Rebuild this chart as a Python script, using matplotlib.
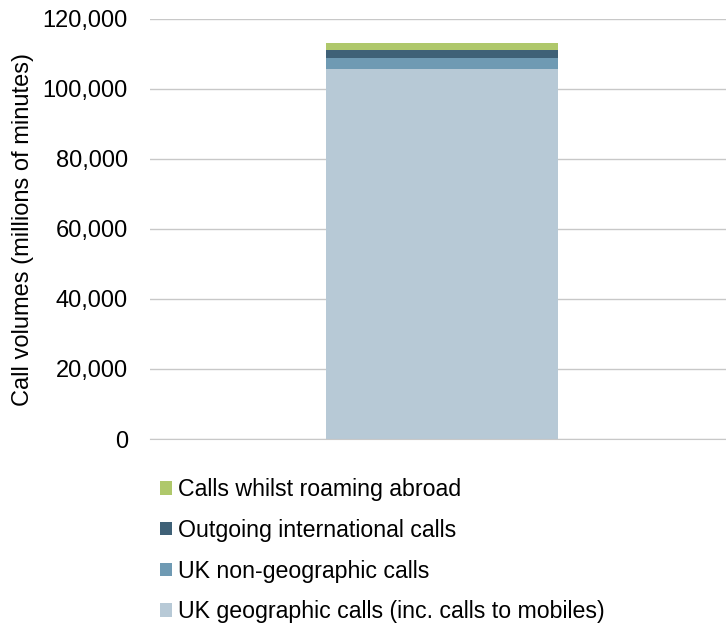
import matplotlib.pyplot as plt
from matplotlib.ticker import FuncFormatter

plt.rcParams['font.family'] = ['Liberation Sans', 'DejaVu Sans']

categories = ['']
series = ['UK geographic calls (inc. calls to mobiles)',
          'UK non-geographic calls',
          'Outgoing international calls',
          'Calls whilst roaming abroad']
values = [[105700], [3200], [2200], [2000]]
colors = ['#B7C9D6', '#6F9AB3', '#3F6177', '#AFC86B']

fig = plt.figure(figsize=(7.26, 6.25), dpi=100)
ax = fig.add_axes([150/726, 1 - 439/625, 576/726, 420/625])

bottom = [0] * len(categories)
handles = []
for name, vals, col in zip(series, values, colors):
    b = ax.bar(categories, vals, bottom=bottom, width=0.403, color=col, label=name, zorder=3)
    handles.append(b)
    bottom = [a + v for a, v in zip(bottom, vals)]

ax.set_xlim(-0.507, 0.493)
ax.set_ylim(0, 120000)
ax.set_yticks(range(0, 120001, 20000))
ax.yaxis.set_major_formatter(FuncFormatter(lambda v, p: f'{int(v):,}'))
ax.grid(axis='y', color='#C8C8C8', linewidth=1, zorder=0)
for side in ['top', 'left', 'right']:
    ax.spines[side].set_visible(False)
ax.spines['bottom'].set_color('#C8C8C8')
ax.spines['bottom'].set_zorder(4)
ax.tick_params(axis='both', length=0, labelsize=17, colors='#000000', pad=16)
ax.set_xticks([])
ax.set_ylabel('Call volumes (millions of minutes)', fontsize=17, labelpad=6)

fig.legend(handles[::-1], series[::-1], loc='upper left', bbox_to_anchor=(151/726, 1 - 469/625),
           frameon=False, fontsize=16.7, handlelength=0.5, handleheight=0.5,
           handletextpad=0.25, labelspacing=0.76, borderaxespad=0)

fig.savefig('out.png', dpi=100)
